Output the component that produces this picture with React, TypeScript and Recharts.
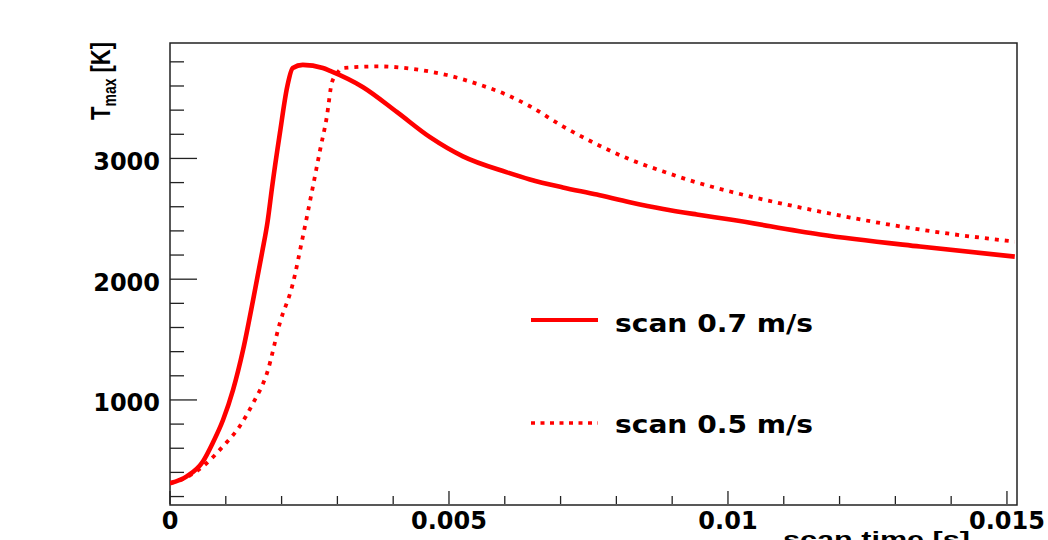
import React from "react";
import { LineChart, Line, XAxis, YAxis, ReferenceArea } from "recharts";

// scan 0.7 m/s (solid)
const timeFast = [
  0, 0.0003, 0.00059, 0.00077, 0.00095, 0.00113, 0.00131, 0.00149, 0.00165, 0.00175,
  0.00183, 0.00197, 0.0021, 0.0022, 0.00238, 0.00274, 0.00287, 0.00346, 0.00407, 0.00466,
  0.00525, 0.00604, 0.00645, 0.00704, 0.00765, 0.00824, 0.00884, 0.00944, 0.01004, 0.01165,
  0.01344, 0.01514,
];
const tempFast = [
  310, 367, 491, 648, 834, 1083, 1415, 1830, 2220, 2480,
  2764, 3211, 3592, 3749, 3775, 3749, 3725, 3590, 3383, 3176,
  3017, 2885, 2826, 2760, 2701, 2638, 2582, 2536, 2494, 2370,
  2270, 2187,
];

// scan 0.5 m/s (dotted)
const timeSlow = [
  0, 0.0003, 0.00059, 0.00095, 0.00125, 0.00149, 0.00174, 0.00197, 0.0022, 0.00237,
  0.00256, 0.00269, 0.00281, 0.0029, 0.003, 0.0031, 0.00376, 0.00435, 0.00496, 0.00556,
  0.00604, 0.00645, 0.00704, 0.00765, 0.00824, 0.00884, 0.00944, 0.01004, 0.01165, 0.01344,
  0.01514,
];
const tempSlow = [
  310, 360, 450, 616, 782, 975, 1224, 1639, 1960, 2328,
  2764, 3070, 3344, 3625, 3708, 3749, 3762, 3741, 3691, 3609,
  3526, 3432, 3266, 3117, 2992, 2892, 2801, 2726, 2560, 2411,
  2311,
];

const seriesNames = ["scan 0.7 m/s", "scan 0.5 m/s"];

const xMajorTicks = [0, 0.005, 0.01, 0.015];
const xAllTicks = [
  0, 0.001, 0.002, 0.003, 0.004, 0.005, 0.006, 0.007, 0.008, 0.009,
  0.01, 0.011, 0.012, 0.013, 0.014, 0.015,
];
const yMajorTicks = [1000, 2000, 3000];
const yAllTicks = [
  200, 400, 600, 800, 1000, 1200, 1400, 1600, 1800, 2000,
  2200, 2400, 2600, 2800, 3000, 3200, 3400, 3600, 3800,
];

const xDomain = [0, 0.01518];
const yDomain = [130, 3956];

const fastData = timeFast.map((t, i) => ({ t, T: tempFast[i] }));
const slowData = timeSlow.map((t, i) => ({ t, T: tempSlow[i] }));

const RED = "#ff0000";
const AXIS = "#222";
const tickFont = { fontFamily: "DejaVu Sans", fontWeight: 700, fontSize: 24, fill: "#000" };

const isMajor = (list: number[], v: number) => list.some((m) => Math.abs(m - v) < 1e-9);

const XTick = (props: any) => {
  const { x, y, payload } = props;
  const major = isMajor(xMajorTicks, payload.value);
  // y is the axis line (tickSize/tickMargin are 0); ticks point into the plot
  const y0 = y - 1;
  return (
    <g>
      <line x1={x} x2={x} y1={y0} y2={y0 - (major ? 13 : 8)} stroke={AXIS} strokeWidth={1.3} />
      {major && (
        <text x={x} y={y0 + 25} textAnchor="middle" {...tickFont}>
          {String(payload.value)}
        </text>
      )}
    </g>
  );
};

const YTick = (props: any) => {
  const { x, y, payload } = props;
  const major = isMajor(yMajorTicks, payload.value);
  return (
    <g>
      <line x1={x} x2={x + (major ? 27 : 14)} y1={y} y2={y} stroke={AXIS} strokeWidth={1.3} />
      {major && (
        <text x={x - 10} y={y + 11.5} textAnchor="end" {...tickFont}>
          {String(payload.value)}
        </text>
      )}
    </g>
  );
};

export default function App() {
  return (
    <div style={{ position: "absolute", left: 0, top: 0, width: 1048, height: 540, background: "#fff" }}>
      <LineChart
        width={1048}
        height={540}
        margin={{ top: 43, right: 31, bottom: 34, left: 169 }}
      >
        <XAxis
          dataKey="t"
          type="number"
          domain={xDomain}
          allowDataOverflow
          ticks={xAllTicks}
          interval={0}
          tick={<XTick />}
          tickLine={false}
          tickSize={0}
          tickMargin={0}
          height={1}
          axisLine={false}
        />
        <YAxis
          dataKey="T"
          type="number"
          domain={yDomain}
          allowDataOverflow
          ticks={yAllTicks}
          interval={0}
          tick={<YTick />}
          tickLine={false}
          tickSize={0}
          tickMargin={0}
          width={1}
          axisLine={false}
        />
        <ReferenceArea
          x1={xDomain[0]}
          x2={xDomain[1]}
          y1={yDomain[0]}
          y2={yDomain[1]}
          fill="none"
          stroke={AXIS}
          strokeWidth={1.5}
        />
        <Line
          data={slowData}
          dataKey="T"
          name={seriesNames[1]}
          type="monotone"
          stroke={RED}
          strokeWidth={3.8}
          strokeDasharray="4 6"
          dot={false}
          isAnimationActive={false}
        />
        <Line
          data={fastData}
          dataKey="T"
          name={seriesNames[0]}
          type="monotone"
          stroke={RED}
          strokeWidth={4.6}
          dot={false}
          isAnimationActive={false}
        />
      </LineChart>

      {/* legend + axis titles */}
      <svg
        width={1048}
        height={540}
        style={{ position: "absolute", left: 0, top: 0, pointerEvents: "none" }}
      >
        <line x1={531} x2={598} y1={320} y2={320} stroke={RED} strokeWidth={4} />
        <text x={615} y={332} textLength={198} lengthAdjust="spacingAndGlyphs" {...tickFont}>
          {seriesNames[0]}
        </text>
        <line
          x1={531}
          x2={598}
          y1={423}
          y2={423}
          stroke={RED}
          strokeWidth={3.5}
          strokeDasharray="4 5.5"
        />
        <text x={615} y={433} textLength={198} lengthAdjust="spacingAndGlyphs" {...tickFont}>
          {seriesNames[1]}
        </text>

        <text
          transform="translate(110,120) scale(1.29,1) rotate(-90)"
          fontFamily="Liberation Sans"
          fontWeight={700}
          fontSize={22}
          fill="#000"
        >
          T
          <tspan fontSize={14} dy={5}>max</tspan>
          <tspan dy={-5}> [K]</tspan>
        </text>

        <text
          x={783}
          y={547}
          textLength={187}
          lengthAdjust="spacingAndGlyphs"
          fontFamily="Liberation Sans"
          fontWeight={700}
          fontSize={22}
          fill="#000"
        >
          scan time [s]
        </text>
      </svg>
    </div>
  );
}
